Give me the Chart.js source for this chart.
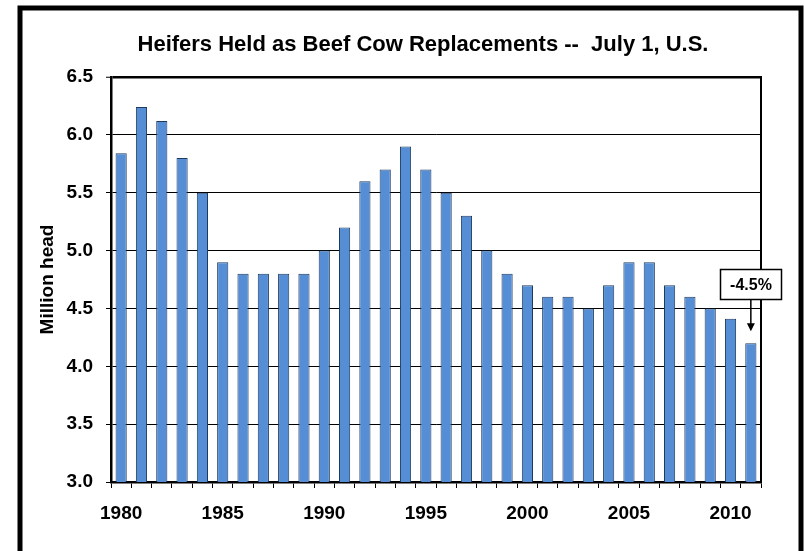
<!DOCTYPE html>
<html>
<head>
<meta charset="utf-8">
<title>Heifers Held as Beef Cow Replacements</title>
<script src="https://cdn.jsdelivr.net/npm/chart.js@4.4.1/dist/chart.umd.min.js"></script>
<style>
  html, body { margin: 0; padding: 0; background: #fff; }
  #wrap { width: 804px; height: 551px; }
</style>
</head>
<body>
<div id="wrap"><canvas id="heiferChart" width="804" height="551"></canvas></div>
<script>
(function () {
  'use strict';

  // -- Data (million head, July 1) --
  var YEARS = ['1980', '1981', '1982', '1983', '1984', '1985', '1986', '1987',
               '1988', '1989', '1990', '1991', '1992', '1993', '1994', '1995',
               '1996', '1997', '1998', '1999', '2000', '2001', '2002', '2003',
               '2004', '2005', '2006', '2007', '2008', '2009', '2010', '2011'];
  var HEIFERS = [5.84, 6.24, 6.12, 5.80, 5.50, 4.90, 4.80, 4.80,
                 4.80, 4.80, 5.00, 5.20, 5.60, 5.70, 5.90, 5.70,
                 5.50, 5.30, 5.00, 4.80, 4.70, 4.60, 4.60, 4.50,
                 4.70, 4.90, 4.90, 4.70, 4.60, 4.50, 4.41, 4.20];
  var Y_TICKS = [3.0, 3.5, 4.0, 4.5, 5.0, 5.5, 6.0, 6.5];
  var LABELED_YEARS = ['1980', '1985', '1990', '1995', '2000', '2005', '2010'];
  var TITLE = 'Heifers Held as Beef Cow Replacements --  July 1, U.S.';
  var NOTE_YEAR = '2011';
  var NOTE_TEXT = '-4.5%';

  var FONT = "'Liberation Sans', Arial, sans-serif";

  // -- Frame, title, right plot edge and the % change callout --
  var decorations = {
    id: 'decorations',
    beforeDraw: function (chart) {
      var c = chart.ctx;
      c.save();
      c.fillStyle = '#fff';
      c.fillRect(0, 0, chart.width, chart.height);
      c.restore();
    },
    afterDraw: function (chart) {
      var c = chart.ctx;
      var area = chart.chartArea;
      var xs = chart.scales.x;
      var ys = chart.scales.y;
      c.save();

      // outer frame
      c.strokeStyle = '#000';
      c.lineWidth = 5;
      c.strokeRect(20, 8, 781, 560);

      // title
      c.fillStyle = '#000';
      c.font = 'bold 22px ' + FONT;
      c.textAlign = 'center';
      c.textBaseline = 'alphabetic';
      c.fillText(TITLE, 423, 51);

      // right edge of plot area
      c.lineWidth = 2;
      c.beginPath();
      c.moveTo(area.right, area.top - 1);
      c.lineTo(area.right, area.bottom + 1);
      c.stroke();

      // callout above the last bar
      var i = YEARS.indexOf(NOTE_YEAR);
      var bx = xs.getPixelForValue(i);
      var tipY = ys.getPixelForValue(HEIFERS[i]) - 12;
      var boxW = 61, boxH = 30;
      var boxBottom = tipY - 32;
      var boxX = Math.round(bx - boxW / 2) + 0.5;
      var boxY = Math.round(boxBottom - boxH) + 0.5;

      c.fillStyle = '#fff';
      c.fillRect(boxX, boxY, boxW, boxH);
      c.lineWidth = 1.5;
      c.strokeRect(boxX, boxY, boxW, boxH);

      c.fillStyle = '#000';
      c.font = 'bold 16px ' + FONT;
      c.textBaseline = 'middle';
      c.fillText(NOTE_TEXT, boxX + boxW / 2, boxY + boxH / 2 + 1);

      c.lineWidth = 1.5;
      c.beginPath();
      c.moveTo(bx, boxY + boxH);
      c.lineTo(bx, tipY - 6);
      c.stroke();
      c.beginPath();
      c.moveTo(bx - 4, tipY - 8);
      c.lineTo(bx + 4, tipY - 8);
      c.lineTo(bx, tipY);
      c.closePath();
      c.fill();

      c.restore();
    }
  };

  var ctx = document.getElementById('heiferChart');

  new Chart(ctx, {
    type: 'bar',
    data: {
      labels: YEARS,
      datasets: [{
        label: 'Heifers',
        data: HEIFERS,
        backgroundColor: '#558ED5',
        borderColor: '#1F3A5F',
        borderWidth: 1,
        borderSkipped: 'bottom',
        barPercentage: 0.55,
        categoryPercentage: 1.0,
      }]
    },
    options: {
      responsive: false,
      animation: false,
      devicePixelRatio: 1,
      layout: { padding: { top: 77, right: 43, bottom: 0, left: 0 } },
      plugins: {
        legend: { display: false },
        title: { display: false },
        tooltip: { enabled: false },
      },
      scales: {
        x: {
          offset: true,
          grid: {
            offset: true,
            drawOnChartArea: false,
            drawTicks: true,
            tickLength: 6,
            color: '#000',
            lineWidth: 1,
          },
          border: { display: true, color: '#000', width: 2.5 },
          ticks: {
            autoSkip: false,
            maxRotation: 0,
            padding: 14,
            color: '#000',
            font: { family: FONT, size: 19, weight: 'bold' },
            callback: function (v, i) {
              var y = YEARS[i];
              return LABELED_YEARS.indexOf(y) >= 0 ? y : '';
            }
          },
          afterFit: function (s) { s.height = 551 - 482; },
        },
        y: {
          min: Y_TICKS[0],
          max: Y_TICKS[Y_TICKS.length - 1],
          afterBuildTicks: function (s) {
            s.ticks = Y_TICKS.map(function (v) { return { value: v }; });
          },
          grid: {
            color: '#000',
            lineWidth: function (c) { return c.tick && c.tick.value === 6.5 ? 2.5 : 1; },
            drawTicks: true,
            tickLength: 5,
            tickColor: '#000',
            tickWidth: 1,
          },
          border: { display: true, color: '#000', width: 2.5 },
          ticks: {
            padding: 13,
            color: '#000',
            font: { family: FONT, size: 19, weight: 'bold' },
            callback: function (v) { return Number(v).toFixed(1); }
          },
          title: {
            display: true,
            text: 'Million head',
            color: '#000',
            font: { family: FONT, size: 19, weight: 'bold' },
            padding: { top: 36, bottom: 0 },
          },
          afterFit: function (s) { s.width = 111; },
        }
      }
    },
    plugins: [decorations]
  });
})();
</script>
</body>
</html>
